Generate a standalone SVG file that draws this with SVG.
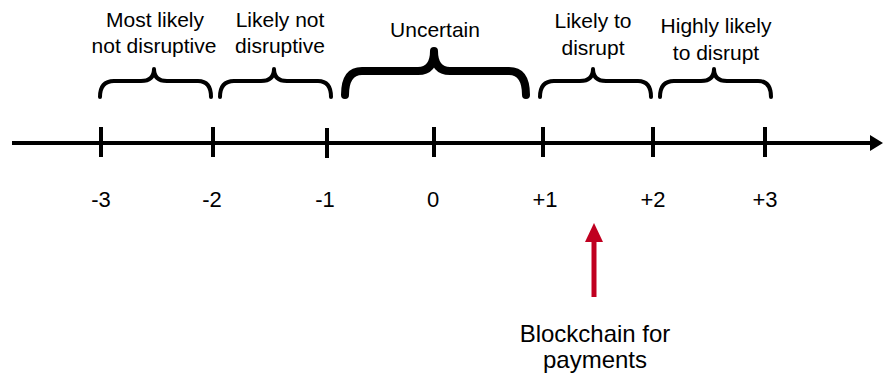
<svg xmlns="http://www.w3.org/2000/svg" width="883" height="377" viewBox="0 0 883 377">
<style>
.t{font-family:"Liberation Sans",Arial,sans-serif;font-size:21px;fill:#000;text-anchor:middle}
.n{font-size:22px}
.br{fill:none;stroke:#000;stroke-width:4;stroke-linecap:round;stroke-linejoin:round}
.tk{stroke:#000;stroke-width:4}
</style>
<rect width="883" height="377" fill="#fff"/>
<g id="axis">
<line x1="12" y1="143" x2="872" y2="143" stroke="#000" stroke-width="4"/>
<polygon points="870,135 883,143 870,151" fill="#000"/>
<line class="tk" x1="101" y1="127" x2="101" y2="157"/>
<line class="tk" x1="213" y1="127" x2="213" y2="157"/>
<line class="tk" x1="327" y1="128" x2="327" y2="158"/>
<line class="tk" x1="434" y1="127" x2="434" y2="157"/>
<line class="tk" x1="543" y1="127" x2="543" y2="157"/>
<line class="tk" x1="653" y1="127" x2="653" y2="157"/>
<line class="tk" x1="765" y1="127" x2="765" y2="157"/>
</g>
<g id="ticklabels">
<text class="t n" x="101" y="207">-3</text>
<text class="t n" x="212" y="207">-2</text>
<text class="t n" x="325" y="207">-1</text>
<text class="t n" x="433" y="207">0</text>
<text class="t n" x="545" y="207">+1</text>
<text class="t n" x="653" y="207">+2</text>
<text class="t n" x="765" y="207">+3</text>
</g>
<g id="b1">
<path class="br" d="M100,97 Q100,81 114,81 L141,81 Q154,81 154,69 Q154,81 167,81 L198,81 Q211,81 211,97"/>
<text class="t" x="155" y="27">Most likely</text>
<text class="t" x="154" y="53">not disruptive</text>
</g>
<g id="b2">
<path class="br" d="M220,97 Q220,81 234,81 L261,81 Q274,81 274,69 Q274,81 287,81 L318,81 Q331,81 331,97"/>
<text class="t" x="280" y="27">Likely not</text>
<text class="t" x="280" y="53">disruptive</text>
</g>
<g id="b3">
<path class="br" style="stroke-width:8" d="M345,95 Q345,71 362,71 L418,71 Q434,71 434,51 Q434,71 450,71 L509,71 Q526,71 526,95"/>
<text class="t" x="435" y="37">Uncertain</text>
</g>
<g id="b4">
<path class="br" d="M540,97 Q540,81 554,81 L580,81 Q593,81 593,69 Q593,81 606,81 L638,81 Q651,81 651,97"/>
<text class="t" x="593" y="28">Likely to</text>
<text class="t" x="593" y="55">disrupt</text>
</g>
<g id="b5">
<path class="br" d="M660,97 Q660,81 674,81 L701,81 Q714,81 714,69 Q714,81 727,81 L758,81 Q771,81 771,97"/>
<text class="t" x="716" y="33">Highly likely</text>
<text class="t" x="716" y="60">to disrupt</text>
</g>
<g id="connectors">
<line x1="594" y1="297" x2="594" y2="238" stroke="#c00020" stroke-width="5"/>
<polygon points="585,242 594,223 603,242" fill="#c00020"/>
</g>
<g id="blockchain">
<text class="t" style="font-size:24px" x="595" y="342">Blockchain for</text>
<text class="t" style="font-size:24px" x="595" y="368">payments</text>
</g>
</svg>
